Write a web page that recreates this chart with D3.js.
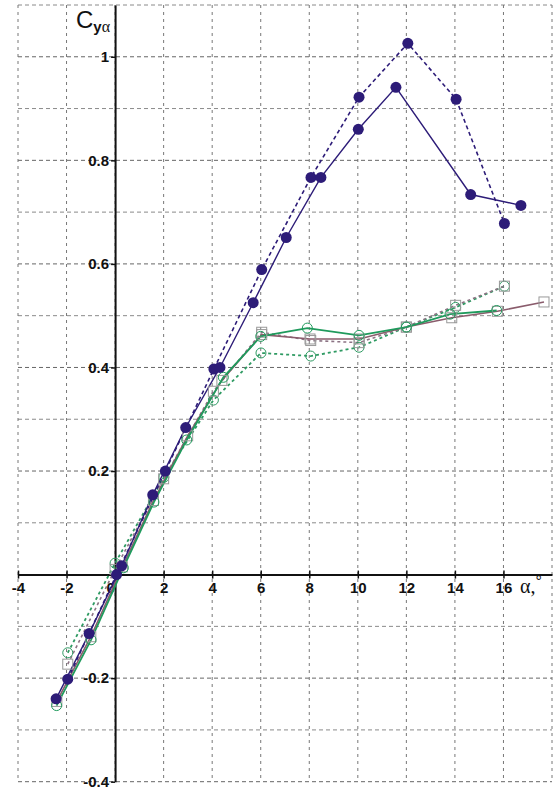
<!DOCTYPE html>
<html>
<head>
<meta charset="utf-8">
<script src="https://cdn.jsdelivr.net/npm/d3@7"></script>
<style>
  body { margin: 0; background: #fff; }
  svg { display: block; }
</style>
</head>
<body>
<div id="chart"></div>
<script>
// Chart size
const width = 559;
const height = 792;

// Axis ticks
const xTicks = [-4, -2, 0, 2, 4, 6, 8, 10, 12, 14, 16];
const yTicks = [-0.4, -0.2, 0.2, 0.4, 0.6, 0.8, 1];

// Series values (alpha, Cy)
const blueDashX = [-1.95, 0.06, 2.07, 4.07, 6.04, 8.07, 10.05, 12.06, 14.05, 16.04];
const blueDashY = [-0.202, 0.0, 0.2, 0.397, 0.589, 0.767, 0.922, 1.026, 0.918, 0.678];

const blueSolidX = [-2.43, -1.07, 0.27, 1.55, 2.91, 4.32, 5.69, 7.05, 8.48, 10.02, 11.57, 14.65, 16.72];
const blueSolidY = [-0.24, -0.114, 0.017, 0.154, 0.284, 0.4, 0.525, 0.651, 0.767, 0.86, 0.941, 0.734, 0.713];

const greenSolidX = [-2.41, -0.99, 0.34, 1.6, 2.95, 4.46, 6.0, 7.92, 10.05, 12.0, 13.8, 15.72];
const greenSolidY = [-0.253, -0.126, 0.013, 0.14, 0.26, 0.381, 0.46, 0.476, 0.462, 0.478, 0.503, 0.51];

const greenDashX = [-1.95, 0.0, 2.01, 4.05, 6.01, 8.06, 10.05, 12.0, 14.03, 16.04];
const greenDashY = [-0.151, 0.022, 0.188, 0.337, 0.428, 0.422, 0.439, 0.478, 0.516, 0.557];

const mauveSolidX = [-2.4, -1.0, 0.3, 1.58, 2.99, 4.4, 6.04, 8.03, 10.06, 12.0, 13.87, 15.75, 17.67];
const mauveSolidY = [-0.245, -0.12, 0.015, 0.143, 0.268, 0.375, 0.4635, 0.455, 0.455, 0.478, 0.496, 0.5085, 0.5265];

const mauveDashX = [-1.95, 0.0, 2.0, 4.05, 6.04, 8.06, 10.05, 12.0, 14.03, 16.04];
const mauveDashY = [-0.173, 0.01, 0.185, 0.354, 0.468, 0.452, 0.448, 0.478, 0.52, 0.557];

const zip = (xs, ys) => xs.map((x, i) => [x, ys[i]]);

const series = [
  { name: "green dashed", pts: zip(greenDashX, greenDashY), color: "#2e9a62", dash: "3,3", width: 1.8, marker: "circle" },
  { name: "mauve dashed", pts: zip(mauveDashX, mauveDashY), color: "#8c7384", dash: "3,3", width: 1.6, marker: "square" },
  { name: "mauve solid", pts: zip(mauveSolidX, mauveSolidY), color: "#8a5c6c", dash: null, width: 1.6, marker: "square" },
  { name: "green solid", pts: zip(greenSolidX, greenSolidY), color: "#1f9a5c", dash: null, width: 1.8, marker: "circle" },
  { name: "blue dashed", pts: zip(blueDashX, blueDashY), color: "#2d1c78", dash: "4,3", width: 1.6, marker: "dot" },
  { name: "blue solid", pts: zip(blueSolidX, blueSolidY), color: "#2d1c78", dash: null, width: 1.4, marker: "dot" }
];

const svg = d3.select("#chart")
  .append("svg")
  .attr("width", width)
  .attr("height", height);

// Scales
const x = d3.scaleLinear().domain([-4, 18]).range([18, 552]);
const y = d3.scaleLinear().domain([-0.4, 1.1]).range([781.7, 5]);

// Grid
const grid = svg.append("g");
grid.selectAll("line.h")
  .data(d3.range(-4, 12).map(d => d / 10))
  .enter().append("line")
  .attr("x1", x(-4)).attr("x2", x(18))
  .attr("y1", d => y(d)).attr("y2", d => y(d))
  .attr("stroke", (d, i) => i % 2 === 0 ? "#666" : "#8a8a8a")
  .attr("stroke-width", 1)
  .attr("stroke-dasharray", "4,3");

grid.selectAll("line.v")
  .data(d3.range(-4, 20, 2))
  .enter().append("line")
  .attr("x1", d => x(d)).attr("x2", d => x(d))
  .attr("y1", y(1.1)).attr("y2", y(-0.4))
  .attr("stroke", "#777")
  .attr("stroke-width", 1)
  .attr("stroke-dasharray", "3,4");

// Axes
const fmt = d => String(d);

const xAxis = svg.append("g")
  .attr("transform", `translate(0,${y(0)})`)
  .call(d3.axisBottom(x).tickValues(xTicks).tickFormat(fmt).tickSizeInner(4).tickSizeOuter(0).tickPadding(4));
xAxis.select(".domain").attr("stroke", "#111").attr("stroke-width", 2);
xAxis.selectAll(".tick line").attr("stroke", "#111").attr("y1", -4).attr("stroke-width", 1.5);
xAxis.selectAll(".tick text")
  .attr("font-family", "Liberation Sans, Arial, sans-serif")
  .attr("font-size", 15)
  .attr("font-weight", "bold")
  .attr("fill", "#111")
  .attr("dx", d => d === 0 ? -5 : 0);

const yAxis = svg.append("g")
  .attr("transform", `translate(${x(0)},0)`)
  .call(d3.axisLeft(y).tickValues(yTicks).tickFormat(fmt).tickSizeInner(4).tickSizeOuter(0).tickPadding(2));
yAxis.select(".domain").attr("stroke", "#111").attr("stroke-width", 2);
yAxis.selectAll(".tick line").attr("stroke", "#111").attr("stroke-width", 1.5);
yAxis.selectAll(".tick text")
  .attr("font-family", "Liberation Sans, Arial, sans-serif")
  .attr("font-size", 15)
  .attr("font-weight", "bold")
  .attr("fill", "#111");

// Lines
const line = d3.line().x(d => x(d[0])).y(d => y(d[1]));

svg.append("g").selectAll("path")
  .data(series)
  .enter().append("path")
  .attr("d", d => line(d.pts))
  .attr("fill", "none")
  .attr("stroke", d => d.color)
  .attr("stroke-width", d => d.width)
  .attr("stroke-dasharray", d => d.dash);

// Markers
series.forEach(s => {
  const g = svg.append("g");
  if (s.marker === "dot") {
    g.selectAll("circle").data(s.pts).enter().append("circle")
      .attr("cx", d => x(d[0])).attr("cy", d => y(d[1]))
      .attr("r", 5.5)
      .attr("fill", s.color);
  } else if (s.marker === "circle") {
    g.selectAll("circle").data(s.pts).enter().append("circle")
      .attr("cx", d => x(d[0])).attr("cy", d => y(d[1]))
      .attr("r", 5)
      .attr("fill", "none")
      .attr("stroke", s.color)
      .attr("stroke-width", 1);
  } else {
    g.selectAll("rect").data(s.pts).enter().append("rect")
      .attr("x", d => x(d[0]) - 5).attr("y", d => y(d[1]) - 5)
      .attr("width", 10).attr("height", 10)
      .attr("fill", "none")
      .attr("stroke", "#999")
      .attr("stroke-width", 1);
  }
});

// Axis titles
const yTitle = svg.append("text")
  .attr("x", 76).attr("y", 28)
  .attr("font-family", "Liberation Sans, Arial, sans-serif")
  .attr("fill", "#111");
yTitle.append("tspan").attr("font-size", 24).text("C");
yTitle.append("tspan").attr("font-size", 15).attr("font-weight", "bold").attr("dy", 4).text("y");
yTitle.append("tspan").attr("font-size", 16).attr("font-family", "Liberation Serif, serif").text("α");

const xTitle = svg.append("text")
  .attr("x", 520).attr("y", 593)
  .attr("font-family", "Liberation Serif, serif")
  .attr("font-size", 20)
  .attr("fill", "#111");
xTitle.append("tspan").text("α,");
xTitle.append("tspan").attr("font-family", "Liberation Sans, sans-serif").attr("font-size", 16).attr("dy", -6).text("°");
</script>
</body>
</html>
